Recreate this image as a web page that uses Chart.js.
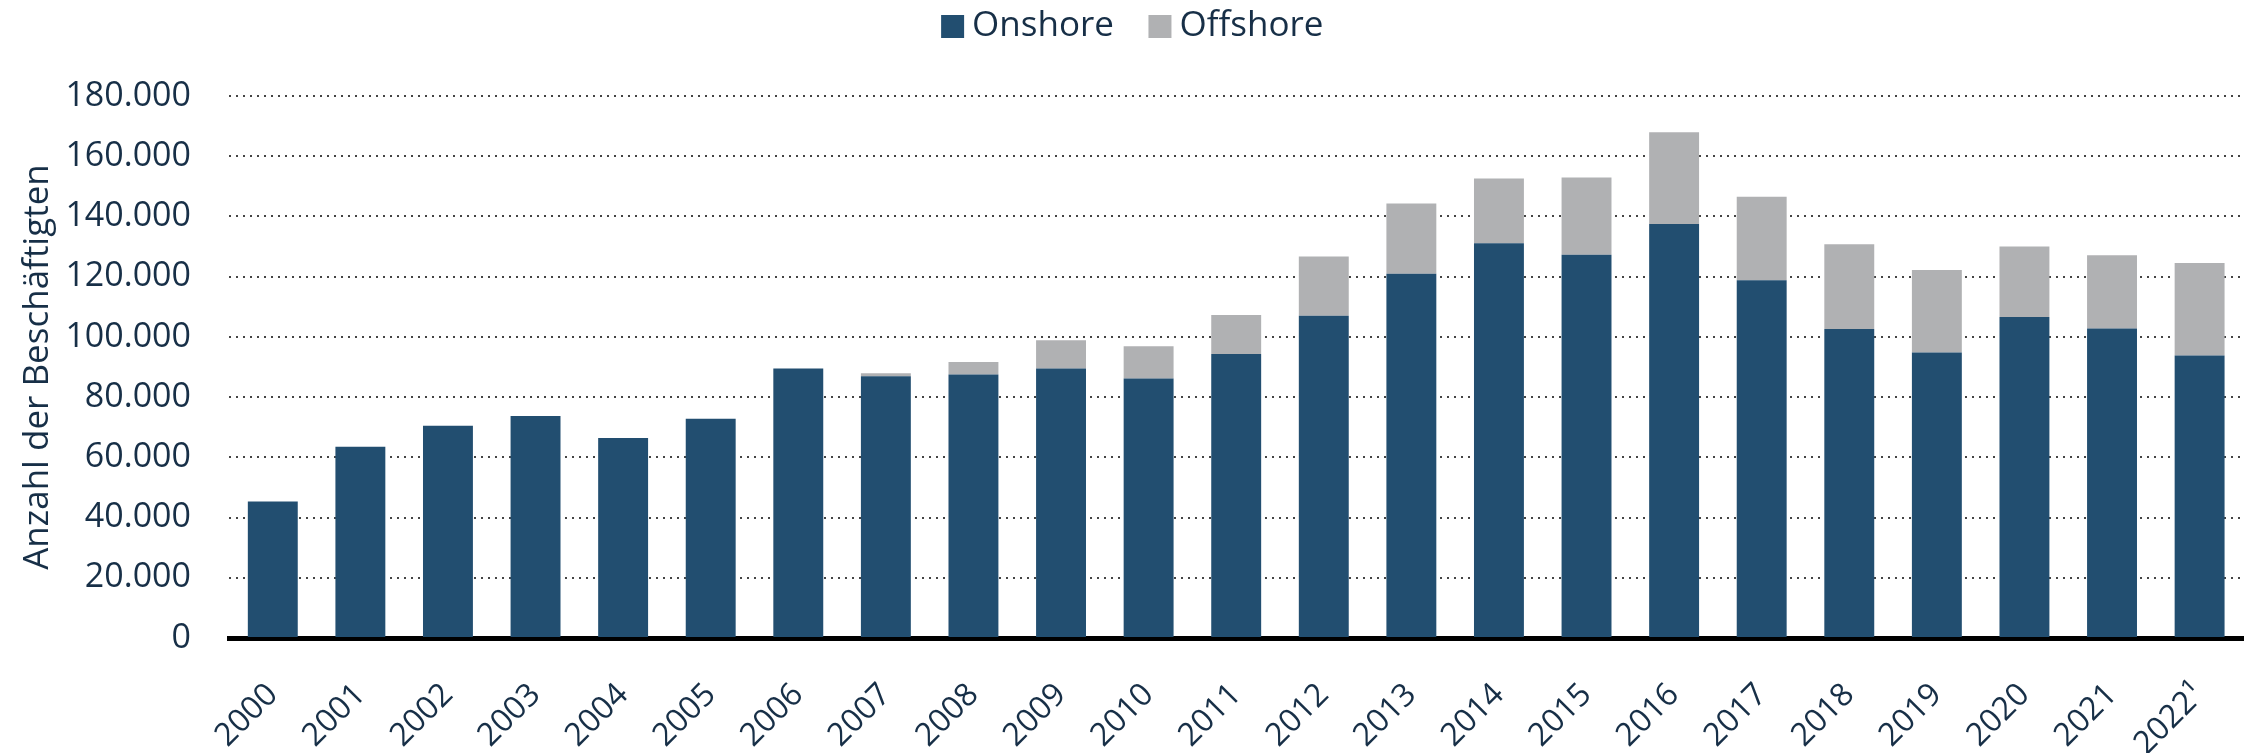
<!DOCTYPE html>
<html>
<head>
<meta charset="utf-8">
<script src="https://cdn.jsdelivr.net/npm/chart.js@4/dist/chart.umd.min.js"></script>
<style>
  html, body { margin: 0; padding: 0; background: #ffffff; }
  #wrap { width: 2257px; height: 753px; position: relative; }
</style>
</head>
<body>
<div id="wrap"><canvas id="c"></canvas></div>
<script>
const years = ['2000','2001','2002','2003','2004','2005','2006','2007','2008','2009','2010','2011','2012','2013','2014','2015','2016','2017','2018','2019','2020','2021','2022\u00B9'];
const onshore = [45300, 63500, 70500, 73700, 66400, 72800, 89500, 86900, 87500, 89500, 86200, 94300, 107000, 121000, 131100, 127300, 137500, 118800, 102600, 94800, 106600, 102800, 93800];
const offshore = [0, 0, 0, 0, 0, 0, 0, 1000, 4200, 9400, 10700, 13000, 19700, 23300, 21500, 25600, 30500, 27700, 28200, 27400, 23400, 24300, 30700];
const yTicks = [0, 20000, 40000, 60000, 80000, 100000, 120000, 140000, 160000, 180000];
const seriesNames = ['Onshore', 'Offshore'];
const yTitle = 'Anzahl der Besch\u00E4ftigten';

const TEXT = '#172f47';
const FONT = "'Open Sans', 'Noto Sans', sans-serif";

const legendTweak = {
  id: 'legendTweak',
  beforeInit(chart) {
    const origFit = chart.legend.fit;
    chart.legend.fit = function () {
      origFit.bind(chart.legend)();
      this.height += 42;
    };
  },
  afterLayout(chart) {
    chart.legend.left += 14;
    chart.legend.right += 14;
  }
};

new Chart(document.getElementById('c'), {
  type: 'bar',
  data: {
    labels: years,
    datasets: [
      { label: seriesNames[0], data: onshore, backgroundColor: '#224E70', barPercentage: 0.57, categoryPercentage: 1.0 },
      { label: seriesNames[1], data: offshore, backgroundColor: '#B0B1B3', barPercentage: 0.57, categoryPercentage: 1.0 }
    ]
  },
  options: {
    responsive: true,
    maintainAspectRatio: false,
    animation: false,
    layout: { padding: { left: 0, right: 11, top: -35, bottom: 0 } },
    plugins: {
      legend: {
        position: 'top',
        align: 'center',
        labels: {
          usePointStyle: true, pointStyle: 'rect',
          boxWidth: 4, boxHeight: 23, padding: 44,
          color: TEXT,
          font: { family: FONT, size: 35 }
        }
      },
      tooltip: { enabled: false }
    },
    scales: {
      x: {
        stacked: true,
        grid: { display: false },
        border: { display: true, color: '#000000', width: 5 },
        ticks: {
          color: TEXT, font: { family: FONT, size: 32 },
          minRotation: 45, maxRotation: 45, padding: 30, autoSkip: false
        },
        afterFit(scale) { scale.height = 115; }
      },
      y: {
        stacked: true,
        min: 0, max: 180000,
        afterBuildTicks(scale) { scale.ticks = yTicks.map(v => ({ value: v })); },
        grid: { color: '#444444', lineWidth: 2, drawTicks: false },
        border: { display: false, dash: [2, 5] },
        ticks: {
          color: TEXT, font: { family: FONT, size: 34 }, padding: 38,
          callback: (v) => v.toLocaleString('de-DE')
        },
        title: {
          display: true, text: yTitle, color: TEXT,
          font: { family: FONT, size: 35 }, padding: { top: 17, bottom: 0 }
        },
        afterFit(scale) { scale.width = 229; }
      }
    }
  },
  plugins: [legendTweak]
});
</script>
</body>
</html>
